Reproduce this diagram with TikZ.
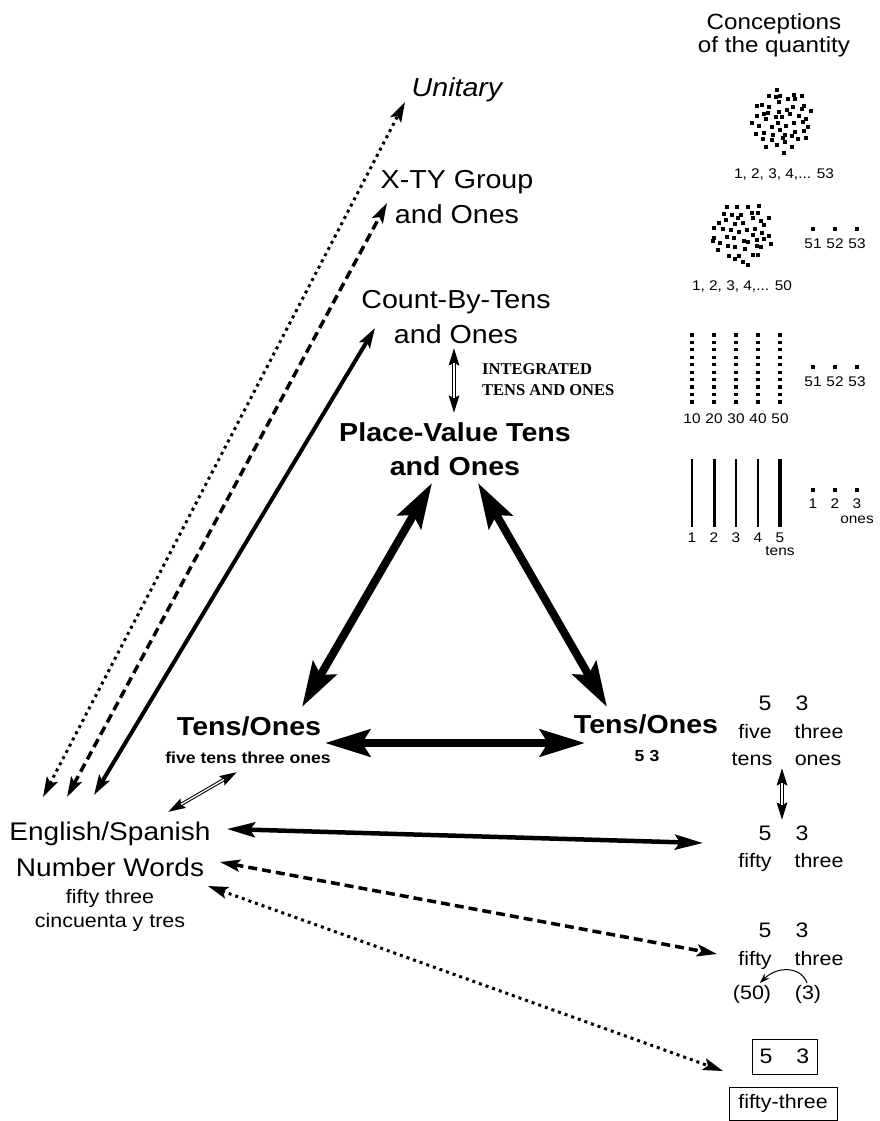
\documentclass[tikz,border=0pt]{standalone}
\usepackage{fontspec}
\setmainfont{Liberation Sans}[FakeStretch=1.1]
\newfontfamily\serifbold{Liberation Serif}[FakeStretch=1.0]
\usetikzlibrary{arrows.meta,calc}
\tikzset{
  big/.style={font=\fontsize{26}{35}\selectfont, align=center, inner sep=0pt},
  bigb/.style={font=\bfseries\fontsize{26}{34}\selectfont, align=center, inner sep=0pt},
  subb/.style={font=\bfseries\fontsize{16}{19}\selectfont, inner sep=0pt},
  mid/.style={font=\fontsize{19.5}{24}\selectfont, inner sep=0pt, align=center},
  dig/.style={font=\fontsize{21}{24}\selectfont, inner sep=0pt},
  sm/.style={font=\fontsize{14}{16}\selectfont, inner sep=0pt},
  tri/.style={line width=8pt, {Stealth[length=45pt,width=27pt,inset=8pt]}-{Stealth[length=45pt,width=27pt,inset=8pt]}},
  solidar/.style={line width=4pt, {Stealth[length=20pt,width=12pt,inset=4pt]}-{Stealth[length=20pt,width=12pt,inset=4pt]}},
  hwar/.style={line width=4.5pt, {Stealth[length=28pt,width=15pt,inset=5pt]}-{Stealth[length=28pt,width=15pt,inset=5pt]}},
  dshar/.style={line width=3.5pt, dash pattern=on 9pt off 5pt, {Stealth[length=20pt,width=12pt,inset=4pt]}-{Stealth[length=20pt,width=12pt,inset=4pt]}},
  dotar/.style={line width=3pt, dash pattern=on 3pt off 4pt, {Stealth[length=20pt,width=12pt,inset=4pt]}-{Stealth[length=20pt,width=12pt,inset=4pt]}},
  dblout/.style={line width=3.4pt, {Stealth[length=17pt,width=10pt,inset=2pt]}-{Stealth[length=17pt,width=10pt,inset=2pt]}},
  dblin/.style={white, line width=1.3pt, shorten <=15pt, shorten >=15pt},
  boxn/.style={draw, line width=1pt, inner sep=0pt}
}
\begin{document}
\begin{tikzpicture}[x=1pt,y=-1pt]
\useasboundingbox (0,0) rectangle (880,1121);
\fill[white] (0,0) rectangle (880,1121);

% ---------- heading
\node[font=\fontsize{22}{23}\selectfont, align=center, inner sep=0pt, anchor=north] (concept) at (774,13) {Conceptions\\of the quantity};

% ---------- main labels
\node[big, anchor=base, font=\itshape\fontsize{26}{35}\selectfont] (unit) at (457,97) {Unitary};
\node[big, anchor=north] (xty) at (457,170) {X-TY Group\\and Ones};
\node[big, anchor=north] (cbt) at (456,290) {Count-By-Tens\\and Ones};
\node[bigb, anchor=north] (pv) at (455,422) {Place-Value Tens\\and Ones};
\node[font=\serifbold\bfseries\fontsize{16.5}{21}\selectfont, align=left, inner sep=0pt, anchor=north west] (integ) at (482,363) {INTEGRATED\\TENS AND ONES};
\node[bigb, anchor=base] (toL) at (249,735) {Tens/Ones};
\node[subb, anchor=base] (toLsub) at (248,763) {five tens three ones};
\node[bigb, anchor=base] (toR) at (646,733) {Tens/Ones};
\node[subb, anchor=base] (toRsub) at (647,761) {5\hspace{5pt}3};
\node[big, anchor=north, font=\fontsize{25.5}{36}\selectfont] (eng) at (110,822) {English/Spanish\\Number Words};
\node[mid, anchor=north] (engsub) at (110,889) {fifty three\\cincuenta y tres};

% ---------- right column, word forms
\node[dig, anchor=base] (a5) at (765,710) {5};
\node[dig, anchor=base] (a3) at (802,710) {3};
\node[mid, anchor=base] (afive) at (755,738) {five};
\node[mid, anchor=base] (athree) at (819,738) {three};
\node[mid, anchor=base] (atens) at (752,765) {tens};
\node[mid, anchor=base] (aones) at (818,765) {ones};

\node[dig, anchor=base] (b5) at (765,840) {5};
\node[dig, anchor=base] (b3) at (802,840) {3};
\node[mid, anchor=base] (bfifty) at (755,867) {fifty};
\node[mid, anchor=base] (bthree) at (819,867) {three};

\node[dig, anchor=base] (c5) at (765,937) {5};
\node[dig, anchor=base] (c3) at (802,937) {3};
\node[mid, anchor=base] (cfifty) at (755,965) {fifty};
\node[mid, anchor=base] (cthree) at (819,965) {three};
\node[mid, anchor=base] (c50) at (752,999) {(50)};
\node[mid, anchor=base] (c3p) at (808,999) {(3)};

\node[boxn, dig, minimum width=65pt, minimum height=35pt] (box53) at (784.5,1056.5) {5\hspace{24pt}3};
\node[boxn, mid, minimum width=108pt, minimum height=33pt] (box5t) at (783,1103.5) {fifty-three};

% ---------- dot clouds
\coordinate (cA) at (782,120);
\coordinate (cB) at (742,233);
\pgfmathsetseed{12}
\foreach \i in {1,...,53}{
  \pgfmathsetmacro\r{31.5*sqrt((\i-0.5)/53)}
  \pgfmathsetmacro\a{\i*137.508}
  \pgfmathsetmacro\jx{2.2*rand}
  \pgfmathsetmacro\jy{2.2*rand}
  \fill ($(cA)+(\a:\r)+(\jx,\jy)$) ++(-2,-2) rectangle ++(4,4);
}
\foreach \i in {1,...,50}{
  \pgfmathsetmacro\r{31.5*sqrt((\i-0.5)/50)}
  \pgfmathsetmacro\a{\i*137.508+40}
  \pgfmathsetmacro\jx{2.2*rand}
  \pgfmathsetmacro\jy{2.2*rand}
  \fill ($(cB)+(\a:\r)+(\jx,\jy)$) ++(-2,-2) rectangle ++(4,4);
}
\node[sm, anchor=base] (lblA) at (784,178) {1, 2, 3, 4,... 53};
\node[sm, anchor=base] (lblB) at (742,290) {1, 2, 3, 4,... 50};

% ---------- single dots with labels
\foreach \x/\n in {813/51,835/52,857/53}{
  \fill (\x-1.7,229-1.7) rectangle ++(3.4,3.4);
  \node[sm, anchor=base] (s\n) at (\x,248) {\n};
  \fill (\x-1.7,367-1.7) rectangle ++(3.4,3.4);
  \node[sm, anchor=base] (t\n) at (\x,386) {\n};
}
\foreach \x/\n in {813/1,835/2,857/3}{
  \fill (\x-1.7,490-1.7) rectangle ++(3.4,3.4);
  \node[sm, anchor=base] (o\n) at (\x,508) {\n};
}
\node[sm, anchor=base] (onesl) at (857,523) {ones};

% ---------- columns of ten
\foreach \x/\n in {692/10,714/20,736/30,758/40,780/50}{
  \foreach \k in {0,...,9}{
    \fill (\x-1.6,335+\k*7.44-1.6) rectangle ++(3.2,3.2);
  }
  \node[sm, anchor=base] (col\n) at (\x,423) {\n};
}
% ---------- tens sticks
\foreach \x/\w/\n in {692/2.2/1,714/3/2,736/2.4/3,758/2.2/4,780/3.2/5}{
  \draw[line width=\w pt] (\x,459) -- (\x,527);
  \node[sm, anchor=base] (stk\n) at (\x,542) {\n};
}
\node[sm, anchor=base] (tensl) at (780,555) {tens};

% ---------- connector end points
\coordinate (uL) at (43,797);   \coordinate (uT) at (405,102);
\coordinate (xL) at (67,797);   \coordinate (xT) at (387,203);
\coordinate (kL) at (94,795);   \coordinate (kT) at (375,328);
\coordinate (ivT) at (454,348); \coordinate (ivB) at (454,413);
\coordinate (t1a) at (432,483); \coordinate (t1b) at (302,707);
\coordinate (t2a) at (478,483); \coordinate (t2b) at (607,707);
\coordinate (t3a) at (325,743); \coordinate (t3b) at (585,743);
\coordinate (dA) at (168,812);  \coordinate (dB) at (237,772);
\coordinate (e1a) at (227,829); \coordinate (e1b) at (703,843);
\coordinate (e2a) at (220,862); \coordinate (e2b) at (717,954);
\coordinate (e3a) at (208,886); \coordinate (e3b) at (723,1071);
\coordinate (rvT) at (782,768); \coordinate (rvB) at (782,820);
\coordinate (cs) at (807,983);  \coordinate (ce) at (760,983);

% ---------- connectors
\draw[dotar] (uL) -- (uT);
\draw[dshar] (xL) -- (xT);
\draw[solidar] (kL) -- (kT);

\draw[dblout] (ivT) -- (ivB);  \draw[dblin] (ivT) -- (ivB);
\draw[dblout] (dA) -- (dB);    \draw[dblin] (dA) -- (dB);
\draw[dblout] (rvT) -- (rvB);  \draw[dblin] (rvT) -- (rvB);

\draw[tri] (t1a) -- (t1b);
\draw[tri] (t2a) -- (t2b);
\draw[tri] (t3a) -- (t3b);

\draw[hwar] (e1a) -- (e1b);
\draw[dshar] (e2a) -- (e2b);
\draw[dotar] (e3a) -- (e3b);

\draw[line width=1pt, -{Stealth[length=10pt,width=7pt]}] (cs) .. controls (801,966) and (777,966) .. (ce);
\end{tikzpicture}
\end{document}
